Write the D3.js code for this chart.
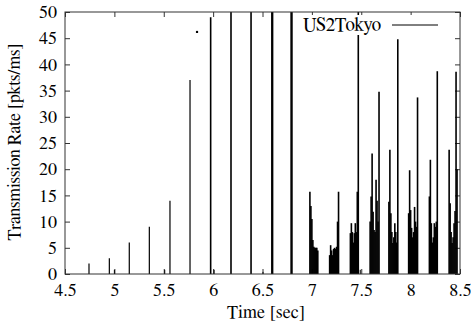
<!DOCTYPE html>
<html>
<head>
<meta charset="utf-8">
<script src="https://cdn.jsdelivr.net/npm/d3@7"></script>
<style>
  body { margin: 0; background: #fff; }
</style>
</head>
<body>
<div id="chart"></div>
<script>
// x ticks / y ticks
const xTicks = [4.5, 5, 5.5, 6, 6.5, 7, 7.5, 8, 8.5];
const yTicks = [0, 5, 10, 15, 20, 25, 30, 35, 40, 45, 50];

// single impulses before the loss period [time, rate]
const spikes = [
  [4.743, 2], [4.949, 3], [5.151, 6], [5.354, 9], [5.563, 14], [5.766, 37],
  [5.975, 49], [6.181, 50], [6.384, 50], [6.595, 50], [6.602, 50], [6.79, 50], [6.798, 50]
];
const minorSpikes = [[5.0, 0.8], [5.51, 0.8], [6.01, 0.8], [6.505, 0.4], [7.49, 0.8]];
const strayPoints = [[5.837, 46.2]];

// dense bursts after 7 s, one value every 0.01 s from the start time
const burstStarts = [6.98, 7.18, 7.39, 7.59, 7.78, 7.98, 8.19, 8.39];
const burstValues = [
  [15.7, 13, 10.5, 6.5, 5.2, 5, 5, 5, 4.5],
  [3.6, 5.5, 4.5, 3.6, 4.8, 5, 4.8, 5.2, 10, 15.7],
  [7.8, 9.7, 8, 6, 7.8, 9.7, 8, 15.7, 50],
  [10, 14.8, 23, 11.9, 8.4, 8, 18, 14, 10, 34.8],
  [13.8, 23.7, 11.6, 8, 5.9, 7, 9.7, 8, 6, 44.8],
  [11.6, 19.8, 12.2, 8.8, 7, 8, 12.8, 10, 9, 33.7],
  [14.8, 21.8, 9.7, 6, 7, 9.7, 9, 10, 38.7],
  [23.7, 13.5, 8, 5.9, 7, 9.7, 12, 38.6, 20]
];
const burstStep = 0.01;

let [width, height] = [471, 331];
let margin = { left: 65, right: 11, top: 12, bottom: 57 };
let serif = '"FreeSerif", "Liberation Serif", "Times New Roman", serif';

let x = d3.scaleLinear().domain([4.5, 8.5]).range([margin.left, width - margin.right]);
let y = d3.scaleLinear().domain([0, 50]).range([height - margin.bottom, margin.top]);

let svg = d3.select('#chart').append('svg')
  .attr('width', width)
  .attr('height', height);

svg.append('clipPath').attr('id', 'plot')
  .append('rect')
  .attr('x', x(4.5)).attr('y', y(50))
  .attr('width', x(8.5) - x(4.5)).attr('height', y(0) - y(50));

// axes, gnuplot style: ticks inside on all four sides
let tickLen = 5;
svg.append('g')
  .attr('transform', `translate(0,${y(0)})`)
  .call(d3.axisBottom(x).tickValues(xTicks).tickSize(-tickLen).tickPadding(9).tickFormat(d3.format('')))
  .call(g => g.select('.domain').remove());
svg.append('g')
  .attr('transform', `translate(0,${y(50)})`)
  .call(d3.axisTop(x).tickValues(xTicks).tickSize(-tickLen).tickFormat(''))
  .call(g => g.select('.domain').remove());
svg.append('g')
  .attr('transform', `translate(${x(4.5)},0)`)
  .call(d3.axisLeft(y).tickValues(yTicks).tickSize(-tickLen).tickPadding(8))
  .call(g => g.select('.domain').remove());
svg.append('g')
  .attr('transform', `translate(${x(8.5)},0)`)
  .call(d3.axisRight(y).tickValues(yTicks).tickSize(-tickLen).tickFormat(''))
  .call(g => g.select('.domain').remove());

svg.selectAll('.tick line').attr('stroke', '#333');
svg.selectAll('.tick text')
  .style('font-family', serif)
  .style('font-size', '18px')
  .attr('fill', '#000');

let plot = svg.append('g').attr('clip-path', 'url(#plot)');

plot.selectAll('line.spike')
  .data(spikes)
  .enter()
  .append('line')
  .attr('class', 'spike')
  .attr('x1', d => x(d[0])).attr('x2', d => x(d[0]))
  .attr('y1', y(0)).attr('y2', d => y(d[1]))
  .attr('stroke', '#000')
  .attr('stroke-width', d => d[1] >= 49 ? 1.6 : 1.2);

plot.selectAll('line.minor')
  .data(minorSpikes)
  .enter()
  .append('line')
  .attr('class', 'minor')
  .attr('x1', d => x(d[0])).attr('x2', d => x(d[0]))
  .attr('y1', y(0)).attr('y2', d => y(d[1]))
  .attr('stroke', '#000')
  .attr('stroke-width', 1);

let burstPoints = [];
burstStarts.forEach((t0, i) => {
  burstValues[i].forEach((v, j) => burstPoints.push([t0 + j * burstStep, v]));
});

plot.selectAll('line.burst')
  .data(burstPoints)
  .enter()
  .append('line')
  .attr('class', 'burst')
  .attr('x1', d => x(d[0])).attr('x2', d => x(d[0]))
  .attr('y1', y(0)).attr('y2', d => y(d[1]))
  .attr('stroke', '#000')
  .attr('stroke-width', 1.6);

plot.selectAll('circle')
  .data(strayPoints)
  .enter()
  .append('circle')
  .attr('cx', d => x(d[0])).attr('cy', d => y(d[1]))
  .attr('r', 1.2)
  .attr('fill', '#000');

// frame
svg.append('rect')
  .attr('x', x(4.5)).attr('y', y(50))
  .attr('width', x(8.5) - x(4.5)).attr('height', y(0) - y(50))
  .attr('fill', 'none')
  .attr('stroke', '#333')
  .attr('stroke-width', 1);

// legend
svg.append('rect')
  .attr('x', 298).attr('y', 15).attr('width', 148).attr('height', 20)
  .attr('fill', '#fff');
svg.append('text')
  .attr('x', 381).attr('y', 31)
  .attr('text-anchor', 'end')
  .attr('textLength', 78)
  .style('font-family', serif)
  .style('font-size', '19px')
  .text('US2Tokyo');
svg.append('line')
  .attr('x1', 392).attr('x2', 438)
  .attr('y1', 25).attr('y2', 25)
  .attr('stroke', '#000')
  .attr('stroke-width', 1);

// axis titles
svg.append('text')
  .attr('x', 266).attr('y', 318)
  .attr('text-anchor', 'middle')
  .attr('textLength', 78)
  .style('font-family', serif)
  .style('font-size', '18px')
  .text('Time [sec]');
svg.append('text')
  .attr('transform', 'translate(20,142) rotate(-90)')
  .attr('text-anchor', 'middle')
  .attr('textLength', 197)
  .style('font-family', serif)
  .style('font-size', '18px')
  .text('Transmission Rate [pkts/ms]');
</script>
</body>
</html>
